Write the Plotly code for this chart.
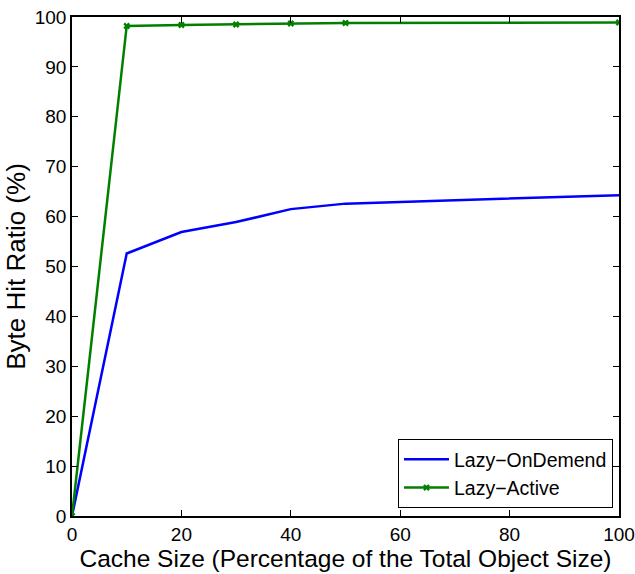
import plotly.graph_objects as go

cache_size = [0, 10, 20, 30, 40, 50, 100]
lazy_ondemand = [0, 52.6, 56.9, 58.9, 61.5, 62.6, 64.3]
lazy_active = [0, 98.2, 98.4, 98.5, 98.7, 98.8, 98.9]
ticks = [0, 10, 20, 30, 40, 50, 60, 70, 80, 90, 100]
xticks = [0, 20, 40, 60, 80, 100]

FONT = "Liberation Sans, Arial"

fig = go.Figure()
fig.add_trace(go.Scatter(x=cache_size, y=lazy_ondemand, mode="lines", name="Lazy\u2212OnDemend",
                         line=dict(color="#0000ff", width=2.5)))
fig.add_trace(go.Scatter(x=cache_size, y=lazy_active, mode="lines+markers", name="Lazy\u2212Active",
                         line=dict(color="#008000", width=2.5),
                         marker=dict(symbol="x", size=6, color="#008000")))

axis_common = dict(showline=True, linecolor="black", linewidth=1.5, mirror="ticks",
                   ticks="inside", ticklen=6, tickcolor="black", showgrid=False, zeroline=False,
                   automargin=False,
                   tickfont=dict(family=FONT, size=19, color="black"))
fig.update_xaxes(range=[0, 100], tickvals=xticks,
                 title=dict(text="Cache Size (Percentage of the Total Object Size)",
                            font=dict(family=FONT, size=24.5, color="black"), standoff=0),
                 **axis_common)
fig.update_yaxes(range=[0, 100], tickvals=ticks,
                 title=dict(text="Byte Hit Ratio (%)",
                            font=dict(family=FONT, size=26, color="black"), standoff=2),
                 **axis_common)
fig.update_layout(width=635, height=574, margin=dict(l=72, r=16, t=17, b=58),
                  plot_bgcolor="white", paper_bgcolor="white",
                  legend=dict(x=0.989, y=0.016, xanchor="right", yanchor="bottom",
                              bordercolor="black", borderwidth=1, bgcolor="white",
                              font=dict(family=FONT, size=19.5, color="black"),
                              tracegroupgap=0, itemwidth=45))
fig.write_html("out.html")
